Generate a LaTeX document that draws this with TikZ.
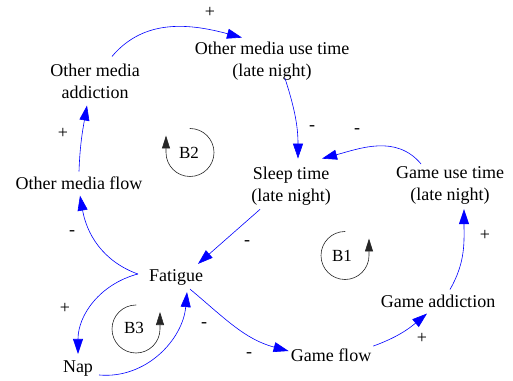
\documentclass[tikz,border=0pt]{standalone}
\usepackage{fontspec}
\setmainfont{Liberation Serif}
\usetikzlibrary{arrows.meta}
\begin{document}
\begin{tikzpicture}[x=1pt,y=1pt,line join=round,line cap=round,>={Triangle[length=15pt,width=10pt]},font=\fontsize{18}{22}\selectfont]
	\tikzset{every node/.style={align=center,inner sep=2pt},
		link/.style={->,blue,line width=0.6pt},
		sign/.style={font=\fontsize{18}{18}\selectfont},
		loopmark/.style={-{Triangle[length=13pt,width=8pt]},black!85,line width=0.6pt}}
	\useasboundingbox (0,0) rectangle (513,380);
	% variables
	\node (omuse) at (272,319) {Other media use time\\(late night)};
	\node (omadd) at (95,299) {Other media\\addiction};
	\node (omflow) at (79,197) {Other media flow};
	\node (sleep) at (291,194) {Sleep time\\(late night)};
	\node (guse) at (450,195) {Game use time\\(late night)};
	\node (fat) at (176,103) {Fatigue};
	\node (nap) at (78,11) {Nap};
	\node (gflow) at (331,25) {Game flow};
	\node (gadd) at (438,79) {Game addiction};
	% links
	\draw[link] ([xshift=17pt,yshift=5pt]omadd.north) to[out=50,in=165] ([xshift=-30pt,yshift=2pt]omuse.north);
	\draw[link] ([xshift=13pt,yshift=4pt]omuse.south) to[out=-72,in=90] ([xshift=7pt,yshift=6pt]sleep.north);
	\draw[link] ([xshift=-29pt]guse.north) to[out=130,in=15] ([xshift=31pt,yshift=6pt]sleep.north);
	\draw[link] ([xshift=-31pt,yshift=-2pt]sleep.south) -- ([xshift=22pt,yshift=3pt]fat.north);
	\draw[link] ([xshift=-9pt,yshift=3pt]fat.west) to[out=160,in=-80] ([xshift=1pt,yshift=-4pt]omflow.south);
	\draw[link] ([yshift=3pt]omflow.north) to[out=88,in=-100] ([xshift=-8pt,yshift=-5pt]omadd.south);
	\draw[link] ([xshift=-9pt,yshift=3pt]fat.west) to[out=195,in=90] ([yshift=5pt]nap.north);
	\draw[link] ([xshift=4pt,yshift=-6pt]nap.east) to[out=-5,in=-95] ([xshift=11pt,yshift=-5pt]fat.south);
	\draw[link] ([xshift=14pt,yshift=-2pt]fat.south) to[out=-40,in=165] ([yshift=4pt]gflow.west);
	\draw[link] ([yshift=9pt]gflow.east) to[out=20,in=-140] ([xshift=-11pt,yshift=-4pt]gadd.south);
	\draw[link] ([xshift=12pt,yshift=3pt]gadd.north) to[out=60,in=-90] ([xshift=14pt,yshift=-3pt]guse.south);
	% polarities
	\node[sign] (p1) at (210,368) {+};
	\node[sign] (m1) at (312,252) {-};
	\node[sign] (m2) at (357,249) {-};
	\node[sign] (m3) at (247,137) {-};
	\node[sign] (m4) at (72,147) {-};
	\node[sign] (p2) at (63,247) {+};
	\node[sign] (p3) at (65,72) {+};
	\node[sign] (m5) at (204,55) {-};
	\node[sign] (m6) at (249,25) {-};
	\node[sign] (p4) at (422,42) {+};
	\node[sign] (p5) at (485,145) {+};
	% loops
	\draw[loopmark] (345,148.5) arc[start angle=90,end angle=360,radius=24] -- ++(0,17);
	\node[font=\fontsize{17}{17}\selectfont] (b1) at (342,124) {B1};
	\draw[loopmark] (190,251.5) arc[start angle=90,end angle=-180,radius=24] -- ++(0,17);
	\node[font=\fontsize{17}{17}\selectfont] (b2) at (189,227) {B2};
	\draw[loopmark] (136,75) arc[start angle=90,end angle=360,radius=24] -- ++(0,17);
	\node[font=\fontsize{17}{17}\selectfont] (b3) at (134,52) {B3};
\end{tikzpicture}
\end{document}
